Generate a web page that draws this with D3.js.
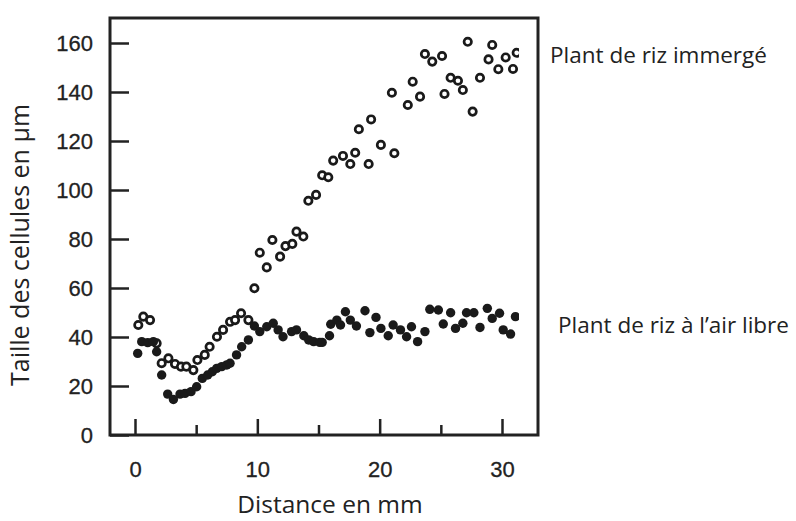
<!DOCTYPE html>
<html>
<head>
<meta charset="utf-8">
<script src="https://cdn.jsdelivr.net/npm/d3@7"></script>
<style>
  body { margin: 0; background: #fff; }
  .tick text { font-family: "Liberation Sans", Arial, sans-serif; font-size: 22px; fill: #222; stroke: #222; stroke-width: 0.3px; }
  .lbl { font-family: "Open Sans", sans-serif; fill: #222; }
</style>
</head>
<body>
<div id="plot"></div>
<script>
// Plant de riz immergé (cercles vides) : [distance mm, taille µm]
var immerge = [[0.27,44.9],[0.68,48.3],[1.23,46.9],[1.77,37.4],[2.18,29.3],[2.73,31.3],
  [3.27,29],[3.76,27.9],[4.2,27.9],[4.77,26.5],[5.1,30.6],[5.7,32.7],[6.1,36],[6.7,40.1],
  [7.2,42.9],[7.77,46.2],[8.18,46.9],[8.67,49.7],[9.27,46.9],[9.76,59.9],[10.2,74.4],
  [10.77,68.4],[11.23,79.6],[11.86,72.8],[12.3,77.1],[12.86,78],[13.2,83],[13.76,81],
  [14.17,95.6],[14.8,98],[15.3,106],[15.8,105.2],[16.2,112],[17.0,113.9],[17.6,110.6],
  [18.0,115.2],[18.3,124.8],[19.1,110.6],[19.3,128.8],[20.1,118.4],[21.0,139.7],[21.2,115],
  [22.3,134.7],[22.7,144.2],[23.3,138.1],[23.7,155.5],[24.3,152.4],[25.1,154.7],[25.3,139.2],
  [25.8,145.8],[26.4,144.6],[26.8,140.8],[27.2,160.5],[27.6,132],[28.2,145.8],[28.9,153.3],
  [29.2,159.2],[29.7,149.3],[30.3,154.1],[30.9,149.4],[31.2,156]];

// Plant de riz à l'air libre (cercles pleins)
var airLibre = [[0.22,33.3],[0.55,38.1],[1.04,37.7],[1.5,38.1],[1.77,34],[2.18,24.5],
  [2.67,16.7],[3.14,14.5],[3.68,16.7],[4.09,17],[4.58,17.7],[5.04,19.7],[5.5,23.1],
  [5.94,24.5],[6.32,25.8],[6.68,27.2],[7.09,27.9],[7.5,28.6],[7.77,29.3],[8.3,32.7],
  [8.72,36],[9.27,38.8],[9.76,44.5],[10.2,42.2],[10.77,44.2],[11.3,45.6],[11.7,42.9],
  [12.1,40.1],[12.8,42.2],[13.2,42.9],[13.8,40.5],[14.2,38.8],[14.6,38.1],[15.1,37.8],
  [15.3,37.8],[15.9,40.5],[16.0,45.2],[16.5,46.9],[16.8,44.9],[17.2,50.3],[17.6,46.9],
  [18.1,44.5],[18.8,50.7],[19.2,41.8],[19.7,48],[20.1,43.5],[20.7,40.5],[21.1,44.9],
  [21.7,42.9],[22.2,40.1],[22.6,44.2],[23.1,38.1],[23.7,42.2],[24.1,51.3],[24.8,51],
  [25.2,45.3],[25.8,49.9],[26.2,43.5],[26.8,45.6],[27.1,49.9],[27.7,49.9],[28.2,43.9],
  [28.8,51.7],[29.2,47.6],[29.8,49.7],[30.1,42.9],[30.7,41.2],[31.1,48.3]];

var xMajor = [0, 10, 20, 30];
var xMinor = [5, 15, 25];
var yTicks = [0, 20, 40, 60, 80, 100, 120, 140, 160];

var W = 796, H = 521;
var frame = {left: 110, top: 18, right: 538, bottom: 435};

var svg = d3.select("div#plot")
  .append("svg")
    .attr("width", W)
    .attr("height", H);

var x = d3.scaleLinear().domain([0, 30]).range([135, 502]);
var y = d3.scaleLinear().domain([0, 160]).range([435, 43]);

// y axis, ticks pointing inside
svg.append("g")
  .attr("transform", "translate(" + frame.left + ",0)")
  .call(d3.axisLeft(y).tickValues(yTicks).tickSizeInner(-19).tickSizeOuter(0).tickPadding(17))
  .call(function(g) { g.select(".domain").remove(); })
  .call(function(g) { g.selectAll(".tick line").attr("stroke", "#222").attr("stroke-width", 2.5); });

// x axis major ticks with labels
svg.append("g")
  .attr("transform", "translate(0," + frame.bottom + ")")
  .call(d3.axisBottom(x).tickValues(xMajor).tickSizeInner(-16).tickSizeOuter(0).tickPadding(26))
  .call(function(g) { g.select(".domain").remove(); })
  .call(function(g) { g.selectAll(".tick line").attr("stroke", "#222").attr("stroke-width", 2.5); });

// x axis minor ticks
svg.append("g")
  .attr("transform", "translate(0," + frame.bottom + ")")
  .call(d3.axisBottom(x).tickValues(xMinor).tickSizeInner(-10).tickSizeOuter(0).tickFormat(""))
  .call(function(g) { g.select(".domain").remove(); })
  .call(function(g) { g.selectAll(".tick line").attr("stroke", "#222").attr("stroke-width", 2.5); });

// frame
svg.append("rect")
  .attr("x", frame.left)
  .attr("y", frame.top)
  .attr("width", frame.right - frame.left)
  .attr("height", frame.bottom - frame.top)
  .attr("fill", "none")
  .attr("stroke", "#222")
  .attr("stroke-width", 3);

// the scanned figure is cut a bit before the right border
svg.append("clipPath").attr("id", "clip")
  .append("rect")
  .attr("x", frame.left).attr("y", frame.top)
  .attr("width", 519 - frame.left).attr("height", frame.bottom - frame.top);

var pts = svg.append("g").attr("clip-path", "url(#clip)");

pts.selectAll(".open")
  .data(immerge)
  .enter().append("circle")
  .attr("class", "open")
  .attr("cx", function(d) { return x(d[0]); })
  .attr("cy", function(d) { return y(d[1]); })
  .attr("r", 3.7)
  .attr("fill", "#fff")
  .attr("stroke", "#1a1a1a")
  .attr("stroke-width", 2.7);

pts.selectAll(".full")
  .data(airLibre)
  .enter().append("circle")
  .attr("class", "full")
  .attr("cx", function(d) { return x(d[0]); })
  .attr("cy", function(d) { return y(d[1]); })
  .attr("r", 4.7)
  .attr("fill", "#1a1a1a");

// titles
svg.append("text")
  .attr("class", "lbl")
  .attr("transform", "translate(29,245) rotate(-90)")
  .attr("text-anchor", "middle")
  .style("font-size", "25px")
  .text("Taille des cellules en µm");

svg.append("text")
  .attr("class", "lbl")
  .attr("x", 330)
  .attr("y", 513)
  .attr("text-anchor", "middle")
  .style("font-size", "24.5px")
  .text("Distance en mm");

svg.append("text")
  .attr("class", "lbl")
  .attr("x", 550)
  .attr("y", 63)
  .style("font-size", "22.5px")
  .text("Plant de riz immergé");

svg.append("text")
  .attr("class", "lbl")
  .attr("x", 558)
  .attr("y", 333)
  .style("font-size", "22.5px")
  .text("Plant de riz à l’air libre");
</script>
</body>
</html>
